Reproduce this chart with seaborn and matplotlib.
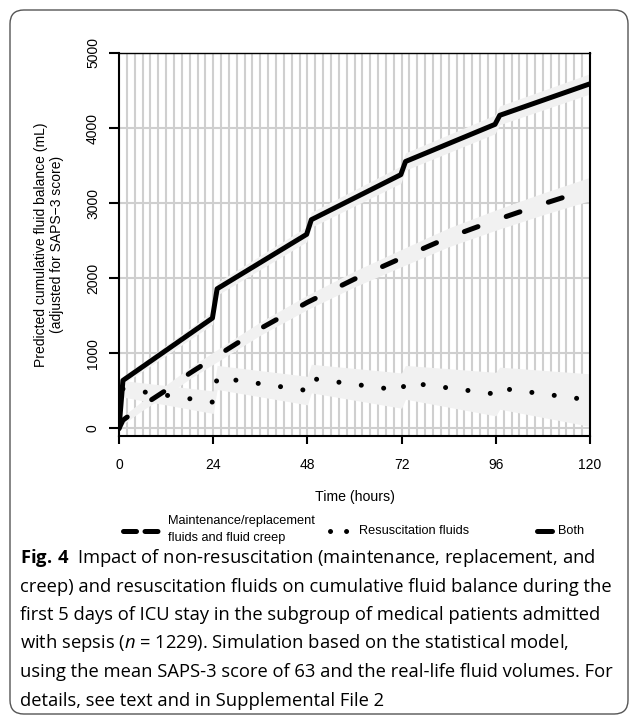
import seaborn as sns
import matplotlib.pyplot as plt
from matplotlib import font_manager
from matplotlib.lines import Line2D
from matplotlib.patches import FancyBboxPatch

# predicted cumulative fluid balance (mL) by hour
# both (maintenance + resuscitation)
both_t = [0, 1, 23.8, 25, 47.8, 49, 71.8, 73, 95.8, 97, 120]
both_y = [0, 640, 1470, 1860, 2585, 2780, 3380, 3555, 4050, 4170, 4590]
both_lo = [-30, 590, 1385, 1775, 2485, 2680, 3265, 3440, 3925, 4045, 4455]
both_hi = [30, 690, 1555, 1945, 2685, 2880, 3495, 3670, 4175, 4295, 4725]

# maintenance/replacement fluids and fluid creep
maint_t = [0, 1, 6, 12, 18, 24, 36, 48, 60, 72, 84, 96, 108, 120]
maint_y = [0, 110, 305, 510, 735, 935, 1330, 1680, 1990, 2270, 2545, 2775, 2990, 3190]
maint_lo = [-50, 55, 243, 440, 660, 855, 1242, 1584, 1885, 2155, 2420, 2640, 2845, 3035]
maint_hi = [50, 165, 367, 580, 810, 1015, 1418, 1776, 2095, 2385, 2670, 2910, 3135, 3345]

# resuscitation fluids
res_t = [1, 24, 25, 48, 49, 72, 73, 96, 97, 120]
res_y = [528, 350, 680, 505, 665, 505, 615, 458, 537, 378]
res_lo = [418, 200, 520, 315, 475, 270, 390, 168, 257, 28]
res_hi = [638, 500, 840, 695, 855, 740, 840, 748, 817, 728]

x_ticks = [0, 24, 48, 72, 96, 120]
y_ticks = [0, 1000, 2000, 3000, 4000, 5000]

caption = [
    r"$\mathbf{Fig.\,4}$  Impact of non-resuscitation (maintenance, replacement, and",
    "creep) and resuscitation fluids on cumulative fluid balance during the",
    "first 5 days of ICU stay in the subgroup of medical patients admitted",
    r"with sepsis ($\mathit{n}$ = 1229). Simulation based on the statistical model,",
    "using the mean SAPS-3 score of 63 and the real-life fluid volumes. For",
    "details, see text and in Supplemental File 2",
]

names = {f.name for f in font_manager.fontManager.ttflist}
narrow = "Liberation Sans Narrow" if "Liberation Sans Narrow" in names else "Liberation Sans"

sns.set_theme(style="ticks")
plt.rcParams["font.family"] = [narrow, "DejaVu Sans"]
plt.rcParams["text.color"] = "black"
plt.rcParams["mathtext.fontset"] = "custom"
plt.rcParams["mathtext.rm"] = "Open Sans"
plt.rcParams["mathtext.it"] = "Open Sans:italic"
plt.rcParams["mathtext.bf"] = "Open Sans:bold"

W, H = 629, 716
fig = plt.figure(figsize=(W / 100, H / 100), dpi=100)
ax = fig.add_axes([119 / W, 280 / H, 471 / W, 383 / H])

ax.set_xlim(0, 120)
ax.set_ylim(-100, 5000)
ax.set_xticks(x_ticks)
ax.set_xticks(range(0, 121, 2), minor=True)
ax.set_yticks(y_ticks)
ax.grid(which="both", axis="x", color="#cfcfcf", lw=1.5)
ax.grid(which="major", axis="y", color="#cfcfcf", lw=1.5)
ax.set_axisbelow(True)

band = "#f1f1f1"
ax.fill_between(maint_t, maint_lo, maint_hi, color=band, lw=0)
ax.fill_between(res_t, res_lo, res_hi, color=band, lw=0)
ax.fill_between(both_t, both_lo, both_hi, color=band, lw=0)

lw = 3.6
sns.lineplot(x=maint_t, y=maint_y, ax=ax, color="black", lw=lw, errorbar=None,
             linestyle=(0, (2.9, 6.0)), dash_capstyle="round")
sns.lineplot(x=res_t, y=res_y, ax=ax, color="black", lw=lw, errorbar=None,
             linestyle=(0, (0.01, 4.5)), dash_capstyle="round")
sns.lineplot(x=both_t, y=both_y, ax=ax, color="black", lw=lw, errorbar=None,
             solid_capstyle="round", solid_joinstyle="round")

for s in ax.spines.values():
    s.set_color("black")
    s.set_linewidth(1.5)
ax.spines["top"].set_linewidth(1.0)

ax.tick_params(which="major", direction="out", color="black", width=1.5,
               labelsize=10, labelcolor="black", bottom=True, left=True)
ax.tick_params(axis="y", length=7.2, pad=6.5, labelrotation=90)
ax.tick_params(axis="x", length=5.8, pad=10)
ax.tick_params(which="minor", length=0)
for lbl in ax.get_yticklabels():
    lbl.set_va("center")

ax.set_ylabel("Predicted cumulative fluid balance (mL)\n(adjusted for SAPS\u22123 score)",
              fontsize=10, linespacing=1.2, color="black", va="center")
ax.yaxis.set_label_coords(-0.149, 0.5)
ax.set_xlabel("Time (hours)", fontsize=10.2, color="black", va="center")
ax.xaxis.set_label_coords(0.5, -0.159)

# legend row under the axis
yl = 1 - 531 / H
fs_leg = 9.2
fig.add_artist(Line2D([123 / W, 158 / W], [yl, yl], color="black", lw=lw,
                      linestyle=(0, (2.6, 1.7)), dash_capstyle="round"))
fig.text(168 / W, 1 - 521 / H, "Maintenance/replacement", fontsize=fs_leg, va="center")
fig.text(168 / W, 1 - 538 / H, "fluids and fluid creep", fontsize=fs_leg, va="center")
fig.add_artist(Line2D([330 / W, 347 / W], [yl, yl], color="black", lw=lw,
                      linestyle=(0, (0.01, 3.2)), dash_capstyle="round"))
fig.text(359 / W, yl, "Resuscitation fluids", fontsize=fs_leg, va="center")
fig.add_artist(Line2D([537 / W, 552 / W], [yl, yl], color="black", lw=lw,
                      solid_capstyle="round"))
fig.text(558 / W, yl, "Both", fontsize=fs_leg, va="center")

# caption
cap_y = [558, 586.5, 615, 643.5, 672, 700.5]
texts = [fig.text(20 / W, 1 - y / H, s, fontsize=12, family="Open Sans", va="center")
         for s, y in zip(caption, cap_y)]
fig.canvas.draw()
w = texts[1].get_window_extent(fig.canvas.get_renderer()).width
for t in texts:
    t.set_fontsize(12 * 591 / w)

# rounded frame round the whole figure
fig.add_artist(FancyBboxPatch((10 / W, 2 / H), 618 / W, 704 / H,
                              boxstyle="round,pad=0,rounding_size=0.022",
                              mutation_aspect=W / H, fill=False,
                              ec="#555555", lw=1.0, transform=fig.transFigure))

fig.savefig("out.png", dpi=100)
